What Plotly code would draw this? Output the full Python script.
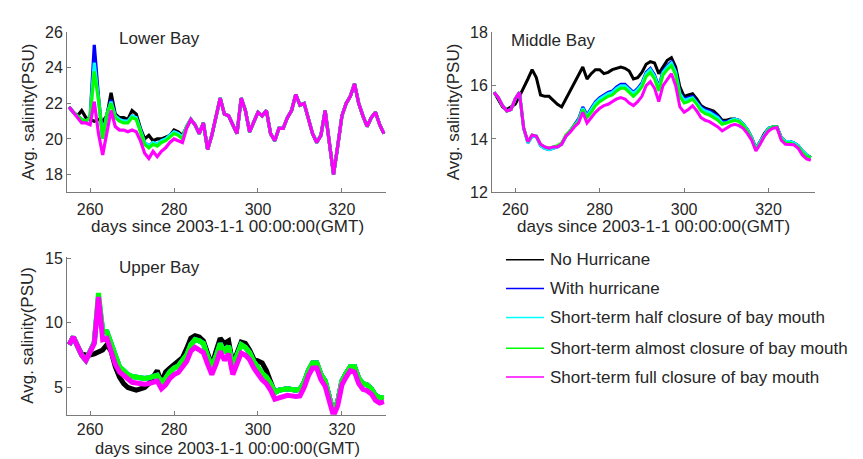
import plotly.graph_objects as go

# ---------------- data ----------------
days = list(range(255, 331))  # 76 daily samples

# Lower Bay: all scenarios coincide from day 285 on
lb_tail = [20.8, 20.3, 20.9, 19.4, 20.2, 21.3, 22.3, 21.4, 21.3, 20.8,
           20.3, 22.3, 21.6, 20.4, 21.0, 21.5, 21.3, 21.6, 20.3, 19.9,
           20.6, 20.6, 21.2, 21.6, 22.5, 21.9, 22.0, 21.1, 20.3, 19.8,
           20.2, 21.6, 19.8, 18.0, 19.6, 21.3, 22.0, 22.4, 23.1, 22.0,
           21.3, 20.7, 21.2, 21.5, 20.8, 20.3]
lb_black_head = [21.8, 21.5, 21.3, 21.6, 21.2, 21.1, 21.0, 21.1, 21.0, 21.3,
                 22.6, 21.4, 21.2, 21.2, 21.1, 21.6, 21.4, 20.6, 20.0, 20.2,
                 19.9, 20.0, 20.0, 20.1, 20.2, 20.5, 20.4, 20.2, 20.7, 21.1]
lb_blue_head = [21.8, 21.5, 21.3, 21.1, 21.0, 21.2, 25.3, 22.4, 20.1, 21.4,
                22.2, 21.3, 21.1, 21.0, 21.0, 21.3, 21.2, 20.5, 19.8, 19.6,
                19.8, 19.7, 19.9, 20.0, 20.2, 20.4, 20.3, 20.1, 20.7, 21.1]
lb_cyan_head = [21.8, 21.5, 21.3, 21.1, 21.0, 21.2, 24.3, 22.3, 20.1, 21.4,
                22.1, 21.3, 21.1, 21.0, 21.0, 21.3, 21.2, 20.5, 19.8, 19.6,
                19.8, 19.7, 19.9, 20.0, 20.2, 20.4, 20.3, 20.1, 20.7, 21.1]
lb_green_head = [21.8, 21.5, 21.3, 21.1, 21.0, 21.2, 23.8, 22.2, 20.0, 21.4,
                 22.0, 21.2, 21.0, 20.9, 20.9, 21.2, 21.1, 20.4, 19.7, 19.5,
                 19.7, 19.6, 19.8, 19.9, 20.1, 20.3, 20.2, 20.0, 20.7, 21.1]
lb_mag_head = [21.8, 21.5, 21.2, 20.9, 20.9, 20.8, 22.1, 20.3, 19.1, 20.4,
               21.6, 20.7, 20.5, 20.5, 20.4, 20.5, 20.4, 19.9, 19.2, 18.9,
               19.3, 19.0, 19.3, 19.5, 19.8, 20.0, 19.9, 19.8, 20.6, 21.1]

# Middle Bay
mb_black = [15.75, 15.5, 15.2, 15.1, 15.2, 15.3, 15.6, 15.9, 16.25, 16.6,
            16.3, 15.65, 15.6, 15.6, 15.45, 15.3, 15.2, 15.5, 15.75, 16.1,
            16.35, 16.7, 16.25, 16.45, 16.6, 16.6, 16.45, 16.5, 16.6, 16.65,
            16.7, 16.65, 16.55, 16.25, 16.3, 16.5, 16.8, 16.9, 16.85, 16.45,
            16.7, 16.95, 17.05, 16.7, 15.95, 15.6, 15.65, 15.7, 15.5, 15.25,
            15.15, 15.1, 15.05, 14.9, 14.7, 14.7, 14.75, 14.75, 14.7, 14.55,
            14.35, 14.05, 13.65, 13.9, 14.2, 14.4, 14.45, 14.45, 14.05, 13.9,
            13.9, 13.85, 13.75, 13.55, 13.4, 13.3]
mb_blue = [15.75, 15.55, 15.25, 15.05, 15.1, 15.5, 15.75, 14.4, 13.85, 14.1,
           14.1, 13.75, 13.65, 13.6, 13.65, 13.7, 13.8, 14.1, 14.3, 14.55,
           14.75, 15.2, 14.9, 15.15, 15.4, 15.55, 15.65, 15.75, 15.8, 15.95,
           16.05, 16.05, 15.9, 15.75, 15.9, 16.1, 16.5, 16.65, 16.4, 15.95,
           16.55, 16.75, 16.9, 16.55, 15.75, 15.5, 15.55, 15.6, 15.4, 15.2,
           15.1, 15.05, 14.95, 14.85, 14.65, 14.65, 14.7, 14.75, 14.7, 14.55,
           14.35, 14.05, 13.65, 13.9, 14.2, 14.4, 14.45, 14.45, 14.05, 13.9,
           13.9, 13.85, 13.75, 13.55, 13.4, 13.3]
mb_cyan = [15.75, 15.55, 15.25, 15.05, 15.1, 15.5, 15.75, 14.4, 13.85, 14.1,
           14.1, 13.75, 13.65, 13.6, 13.65, 13.7, 13.8, 14.1, 14.3, 14.5,
           14.7, 15.15, 14.85, 15.1, 15.35, 15.5, 15.6, 15.7, 15.75, 15.9,
           16.0, 16.0, 15.85, 15.7, 15.85, 16.05, 16.45, 16.6, 16.35, 15.9,
           16.5, 16.7, 16.85, 16.5, 15.7, 15.45, 15.5, 15.55, 15.35, 15.15,
           15.05, 15.0, 14.9, 14.8, 14.6, 14.6, 14.7, 14.75, 14.7, 14.55,
           14.35, 14.05, 13.65, 13.9, 14.2, 14.4, 14.45, 14.45, 14.05, 13.9,
           13.9, 13.85, 13.75, 13.55, 13.4, 13.3]
mb_green = [15.75, 15.55, 15.25, 15.05, 15.1, 15.5, 15.75, 14.4, 13.9, 14.15,
            14.1, 13.8, 13.7, 13.65, 13.7, 13.75, 13.85, 14.15, 14.3, 14.5,
            14.65, 15.1, 14.8, 15.0, 15.25, 15.4, 15.5, 15.6, 15.65, 15.8,
            15.9, 15.9, 15.75, 15.6, 15.75, 15.95, 16.35, 16.5, 16.25, 15.8,
            16.4, 16.6, 16.75, 16.4, 15.6, 15.35, 15.4, 15.5, 15.3, 15.05,
            14.95, 14.9, 14.8, 14.7, 14.55, 14.6, 14.65, 14.7, 14.65, 14.5,
            14.3, 14.0, 13.6, 13.85, 14.15, 14.35, 14.45, 14.45, 14.0, 13.85,
            13.85, 13.8, 13.7, 13.5, 13.35, 13.3]
mb_mag = [15.75, 15.55, 15.25, 15.05, 15.1, 15.5, 15.75, 14.4, 13.9, 14.15,
          14.1, 13.8, 13.7, 13.65, 13.7, 13.7, 13.8, 14.1, 14.25, 14.45,
          14.6, 15.0, 14.6, 14.8, 15.0, 15.15, 15.25, 15.3, 15.4, 15.5,
          15.55, 15.5, 15.35, 15.25, 15.4, 15.6, 16.0, 16.15, 15.9, 15.4,
          16.0, 16.25, 16.45, 16.0, 15.2, 15.0, 15.1, 15.25, 15.05, 14.8,
          14.7, 14.65, 14.55, 14.45, 14.3, 14.4, 14.5, 14.55, 14.5, 14.4,
          14.2, 13.95, 13.55, 13.8, 14.1, 14.3, 14.4, 14.42, 13.95, 13.8,
          13.8, 13.78, 13.65, 13.4, 13.25, 13.2]

# Upper Bay
ub_black = [8.3, 8.9, 8.2, 7.6, 7.5, 7.5, 7.6, 7.7, 7.9, 8.3,
            7.8, 6.6, 5.8, 5.3, 5.0, 4.9, 4.8, 4.9, 5.0, 5.3,
            5.9, 6.3, 5.4, 6.2, 6.5, 6.8, 7.0, 7.3, 8.0, 8.8,
            9.0, 8.9, 8.6, 7.5, 6.7, 7.8, 8.8, 8.4, 8.6, 6.8,
            7.8, 8.5, 8.4, 7.9, 7.2, 7.0, 6.9, 6.3, 5.5, 4.6,
            4.8, 4.85, 4.9, 4.85, 4.8, 4.85, 5.4, 6.3, 6.9, 6.9,
            6.0, 5.5, 4.2, 3.0, 3.9, 5.5, 6.1, 6.6, 6.6, 5.7,
            5.3, 5.2, 4.9, 4.4, 4.2, 4.2]
ub_blue = [8.3, 8.9, 8.2, 7.5, 7.1, 7.8, 8.5, 11.8, 9.4, 9.3,
           8.4, 7.3, 6.6, 6.3, 6.0, 5.85, 5.8, 5.75, 5.7, 5.75,
           5.85, 5.95, 5.4, 5.7, 6.2, 6.5, 6.65, 7.1, 7.5, 8.3,
           8.7, 8.6, 8.4, 7.4, 6.6, 7.4, 8.4, 7.7, 8.2, 6.6,
           7.4, 8.3, 8.1, 7.7, 7.0, 6.5, 6.1, 5.8, 5.3, 4.6,
           4.8, 4.85, 4.9, 4.85, 4.8, 4.85, 5.4, 6.3, 6.9, 6.9,
           6.0, 5.5, 4.2, 3.0, 3.9, 5.5, 6.1, 6.6, 6.6, 5.7,
           5.3, 5.2, 4.9, 4.4, 4.2, 4.2]
ub_cyan = [8.3, 8.9, 8.2, 7.5, 7.1, 7.8, 8.5, 12.1, 9.4, 9.3,
           8.4, 7.3, 6.6, 6.3, 6.0, 5.85, 5.8, 5.75, 5.7, 5.75,
           5.85, 5.95, 5.4, 5.7, 6.2, 6.5, 6.65, 7.1, 7.5, 8.3,
           8.7, 8.6, 8.4, 7.4, 6.6, 7.4, 8.4, 7.7, 8.2, 6.6,
           7.4, 8.3, 8.1, 7.7, 7.0, 6.5, 6.1, 5.8, 5.3, 4.6,
           4.8, 4.85, 4.9, 4.85, 4.8, 4.85, 5.4, 6.3, 6.9, 6.9,
           6.0, 5.5, 4.2, 3.0, 3.9, 5.5, 6.1, 6.6, 6.6, 5.7,
           5.3, 5.2, 4.9, 4.4, 4.2, 4.2]
ub_green = [8.3, 8.9, 8.2, 7.5, 7.1, 7.8, 8.5, 12.3, 9.4, 9.3,
            8.4, 7.3, 6.6, 6.3, 6.0, 5.85, 5.8, 5.75, 5.7, 5.75,
            5.85, 5.95, 5.4, 5.7, 6.2, 6.5, 6.65, 7.1, 7.5, 8.3,
            8.7, 8.6, 8.4, 7.4, 6.6, 7.4, 8.4, 7.7, 8.2, 6.6,
            7.4, 8.3, 8.1, 7.7, 7.0, 6.5, 6.1, 5.8, 5.3, 4.6,
            4.8, 4.85, 4.9, 4.85, 4.8, 4.85, 5.4, 6.3, 6.9, 6.9,
            6.0, 5.5, 4.2, 3.0, 3.9, 5.5, 6.1, 6.6, 6.6, 5.7,
            5.3, 5.2, 4.9, 4.4, 4.2, 4.2]
ub_mag = [8.3, 8.9, 8.2, 7.5, 7.1, 7.8, 8.4, 12.0, 8.7, 8.8,
          7.8, 6.8, 6.2, 5.9, 5.6, 5.4, 5.35, 5.3, 5.25, 5.3,
          5.4, 5.5, 4.9, 5.2, 5.7, 6.0, 6.15, 6.6, 7.0, 7.8,
          8.1, 7.9, 7.7, 6.8, 6.0, 6.8, 7.8, 7.1, 7.6, 6.0,
          6.8, 7.65, 7.5, 7.15, 6.5, 6.0, 5.6, 5.3, 4.8, 4.1,
          4.2, 4.3, 4.4, 4.35, 4.3, 4.35, 5.0, 5.9, 6.5, 6.5,
          5.6, 5.1, 3.9, 2.8, 3.6, 5.2, 5.8, 6.3, 6.2, 5.3,
          4.85, 4.75, 4.5, 4.0, 3.8, 3.9]

x_tick_vals = [260, 280, 300, 320]
scenario_names = ["No Hurricane", "With hurricane",
                  "Short-term half closure of bay mouth",
                  "Short-term almost closure of bay mouth",
                  "Short-term full closure of bay mouth"]
scenario_colors = ["#000000", "#0000ff", "#00ffff", "#00ff00", "#ff00ff"]

panels = [
    ("Lower Bay", "x", "y",
     [lb_black_head + lb_tail, lb_blue_head + lb_tail, lb_cyan_head + lb_tail,
      lb_green_head + lb_tail, lb_mag_head + lb_tail], 3.2),
    ("Middle Bay", "x2", "y2", [mb_black, mb_blue, mb_cyan, mb_green, mb_mag], 3.0),
    ("Upper Bay", "x3", "y3", [ub_black, ub_blue, ub_cyan, ub_green, ub_mag], 5.0),
]

W, H = 863, 459
FONT = "Liberation Sans, Arial, sans-serif"
AX = "#7a7a7a"
TXT = "#262626"

fig = go.Figure()
for title, xa, ya, series, lw in panels:
    for name, col, vals in zip(scenario_names, scenario_colors, series):
        fig.add_trace(go.Scatter(x=days, y=vals, mode="lines", name=name,
                                 line=dict(color=col, width=lw),
                                 xaxis=xa, yaxis=ya, showlegend=False,
                                 hoverinfo="skip"))

def px(x):
    return x / W

def py(y):
    return 1 - y / H

common_x = dict(showline=True, linecolor=AX, linewidth=1, ticks="inside",
                ticklen=4, tickcolor=AX, showgrid=False, zeroline=False,
                tickvals=x_tick_vals, ticklabelstandoff=3,
                tickfont=dict(family=FONT, size=16, color=TXT))
common_y = dict(showline=True, linecolor=AX, linewidth=1, ticks="inside",
                ticklen=4, tickcolor=AX, showgrid=False, zeroline=False,
                tickfont=dict(family=FONT, size=16, color=TXT))

fig.update_layout(
    width=W, height=H, autosize=False,
    margin=dict(l=0, r=0, t=0, b=0),
    paper_bgcolor="white", plot_bgcolor="white",
    xaxis=dict(common_x, domain=[px(59), px(378)], range=[254.5, 330.5], anchor="y"),
    yaxis=dict(common_y, domain=[py(183), py(17)], range=[17, 26],
               tickvals=[18, 20, 22, 24, 26], anchor="x"),
    xaxis2=dict(common_x, domain=[px(484), px(807)], range=[254.5, 331], anchor="y2"),
    yaxis2=dict(common_y, domain=[py(183), py(17)], range=[12, 18],
                tickvals=[12, 14, 16, 18], anchor="x2"),
    xaxis3=dict(common_x, domain=[px(59), px(378)], range=[254.5, 330.5], anchor="y3",
                ticklabelstandoff=0),
    yaxis3=dict(common_y, domain=[py(414), py(250)], range=[2.9, 15.1],
                tickvals=[5, 10, 15], anchor="x3"),
    showlegend=False,
)

def note(text, cx, cy, angle=0, anchor="center", size=17):
    fig.add_annotation(text=text, x=px(cx), y=py(cy), xref="paper", yref="paper",
                       showarrow=False, xanchor=anchor, yanchor="middle",
                       textangle=angle,
                       font=dict(family=FONT, size=size, color=TXT))

# panel titles
note("Lower Bay", 151, 23)
note("Middle Bay", 545, 25)
note("Upper Bay", 151, 261)

# axis titles
xt = "days since 2003-1-1 00:00:00(GMT)"
yt = "Avg. salinity(PSU)"
note(xt, 219, 219)
note(xt, 645, 219)
note(xt, 219, 449, size=16.5)
note(yt, 20, 100, angle=-90)
note(yt, 445, 100, angle=-90)
note(yt, 20, 332, angle=-90)

# legend drawn in the lower-right area
rows = [253, 283, 313, 345, 375]
for name, col, ry in zip(scenario_names, scenario_colors, rows):
    fig.add_shape(type="line", xref="paper", yref="paper",
                  x0=px(498), x1=px(536), y0=py(ry), y1=py(ry),
                  line=dict(color=col, width=1.5))
    note(name, 540, ry, anchor="left")

fig.write_html("out.html")
